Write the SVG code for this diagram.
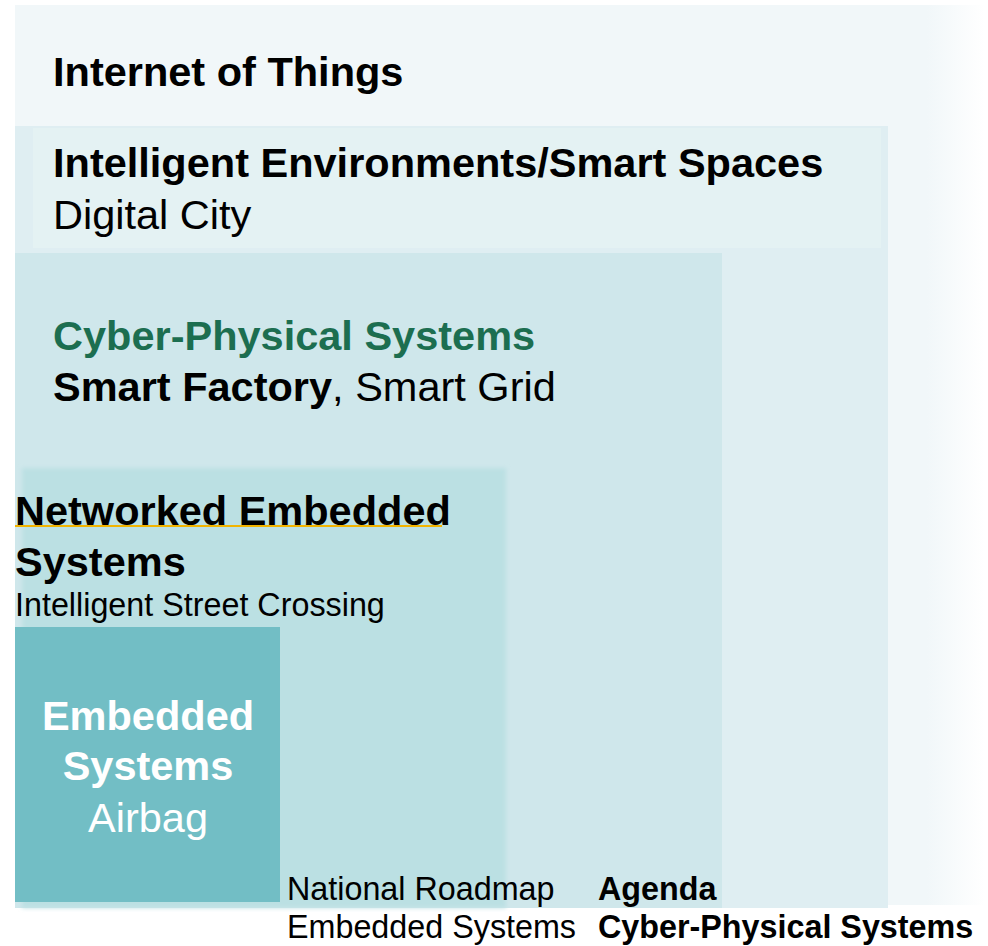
<svg xmlns="http://www.w3.org/2000/svg" width="988" height="946" viewBox="0 0 988 946">
<defs>
<style>
text{font-family:"Liberation Sans",Arial,sans-serif;}
.h{font-size:41.5px;font-weight:bold;fill:#000;}
.r{font-size:41.5px;fill:#000;}
.s{font-size:32.3px;fill:#000;}
.sb{font-size:32.3px;font-weight:bold;fill:#000;}
</style>
<linearGradient id="fadeR" x1="0" y1="0" x2="1" y2="0">
<stop offset="0" stop-color="#f1f7f9"/>
<stop offset="0.94" stop-color="#f1f7f9"/>
<stop offset="1" stop-color="#f1f7f9" stop-opacity="0"/>
</linearGradient>
<filter id="soft" x="-5%" y="-5%" width="110%" height="110%">
<feGaussianBlur stdDeviation="2"/>
</filter>
</defs>
<rect width="988" height="946" fill="#ffffff"/>
<g id="iot">
<rect x="15" y="5" width="970" height="900" fill="url(#fadeR)"/>
<text class="h" x="53" y="86">Internet of Things</text>
</g>
<g id="intelligent-environments">
<rect x="15" y="126" width="873" height="782" fill="#dfeef2"/>
<rect x="33" y="128" width="848" height="120" fill="#e4f2f3"/>
<text class="h" x="53" y="177">Intelligent Environments/Smart Spaces</text>
<text class="r" x="53" y="229">Digital City</text>
</g>
<g id="cps">
<rect x="15" y="253" width="707" height="655" fill="#cfe7eb"/>
<text class="h" x="53" y="350" style="fill:#1c6e50">Cyber-Physical Systems</text>
<text class="r" x="53" y="401"><tspan font-weight="bold">Smart Factory</tspan>, Smart Grid</text>
</g>
<g id="nes">
<rect x="22" y="468" width="484" height="440" fill="#bbe0e3" filter="url(#soft)"/>
<rect x="15" y="525" width="427" height="2" fill="#f2b400"/>
<text class="h" x="15" y="525">Networked Embedded</text>
<text class="h" x="15" y="576">Systems</text>
<text class="s" x="15" y="616">Intelligent Street Crossing</text>
</g>
<g id="es">
<rect x="15" y="627" width="265" height="275" fill="#72bec5"/>
<text class="h" x="148" y="730" text-anchor="middle" style="fill:#fff">Embedded</text>
<text class="h" x="148" y="780" text-anchor="middle" style="fill:#fff">Systems</text>
<text class="r" x="148" y="832" text-anchor="middle" style="fill:#fff">Airbag</text>
</g>
<g id="captions">
<text class="s" x="287" y="900">National Roadmap</text>
<text class="s" x="287" y="938">Embedded Systems</text>
<text class="sb" x="598" y="900">Agenda</text>
<text class="sb" x="598" y="938">Cyber-Physical Systems</text>
</g>
<g id="connectors"></g>
</svg>
